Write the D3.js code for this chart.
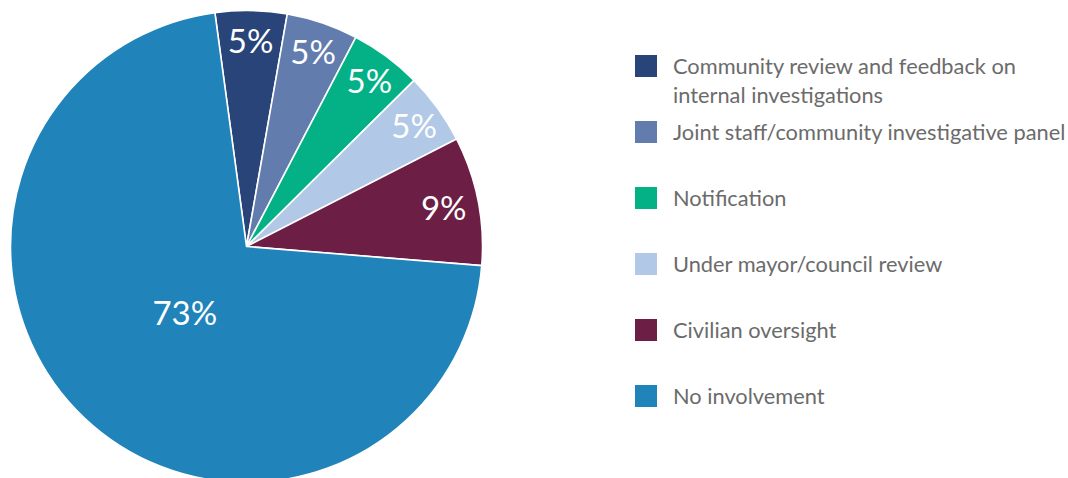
<!DOCTYPE html>
<html>
<head>
<meta charset="utf-8">
<script src="https://cdn.jsdelivr.net/npm/d3@7"></script>
<style>
  html, body { margin: 0; padding: 0; background: #fff; }
  svg { display: block; font-family: Lato, "Open Sans", sans-serif; }
</style>
</head>
<body>
<svg id="chart" width="1068" height="478"></svg>
<script>
const categories = [
  "Community review and feedback on internal investigations",
  "Joint staff/community investigative panel",
  "Notification",
  "Under mayor/council review",
  "Civilian oversight",
  "No involvement"
];
const legendLines = [
  ["Community review and feedback on", "internal investigations"],
  ["Joint staff/community investigative panel"],
  ["Notification"],
  ["Under mayor/council review"],
  ["Civilian oversight"],
  ["No involvement"]
];
const values = [5, 5, 5, 5, 9, 73];
const labels = ["5%", "5%", "5%", "5%", "9%", "73%"];
const colors = ["#284479", "#627cae", "#04b187", "#b1c8e6", "#6d1e45", "#2083ba"];

const svg = d3.select("#chart");
const cx = 246.5, cy = 246.5, R = 236;

const color = d3.scaleOrdinal().domain(categories).range(colors);

const pie = d3.pie()
  .sort(null)
  .value(d => d.value)
  .startAngle(-7.7 * Math.PI / 180)
  .endAngle(-7.7 * Math.PI / 180 + 2 * Math.PI);

const data = categories.map((c, i) => ({ name: c, value: values[i], label: labels[i] }));
const arcs = pie(data);

const arc = d3.arc().innerRadius(0).outerRadius(R);

const g = svg.append("g").attr("transform", `translate(${cx},${cy})`);

g.selectAll("path.slice")
  .data(arcs)
  .enter().append("path")
  .attr("class", "slice")
  .attr("d", arc)
  .attr("fill", d => color(d.data.name))
  .attr("stroke", "#fff")
  .attr("stroke-width", 1.6)
  .attr("stroke-linejoin", "round");

function labelRadius(v) {
  if (v > 50) return R * 0.38;
  if (v > 7) return R * 0.852;
  return R * 0.877;
}

g.selectAll("text.lbl")
  .data(arcs)
  .enter().append("text")
  .attr("class", "lbl")
  .attr("transform", d => {
    const r = labelRadius(d.data.value);
    const c = d3.arc().innerRadius(r).outerRadius(r).centroid(d);
    return `translate(${c[0]},${c[1]})`;
  })
  .attr("text-anchor", "middle")
  .attr("dominant-baseline", "central")
  .attr("fill", "#fff")
  .attr("font-size", 33)
  .text(d => d.data.label);

// Legend
const ly = d3.scalePoint().domain(categories).range([66, 396]);
const lg = svg.append("g");
const item = lg.selectAll("g.item")
  .data(categories)
  .enter().append("g")
  .attr("class", "item")
  .attr("transform", d => `translate(635,${ly(d)})`);

item.append("rect")
  .attr("x", 0).attr("y", -11)
  .attr("width", 22).attr("height", 22)
  .attr("fill", d => color(d));

item.append("text")
  .attr("x", 38)
  .attr("y", 7.5)
  .attr("font-size", 21.8)
  .attr("fill", "#6b6b6b")
  .selectAll("tspan")
  .data((d, i) => legendLines[i])
  .enter().append("tspan")
  .attr("x", 38)
  .attr("dy", (d, j) => j === 0 ? 0 : 29.5)
  .text(d => d);
</script>
</body>
</html>
